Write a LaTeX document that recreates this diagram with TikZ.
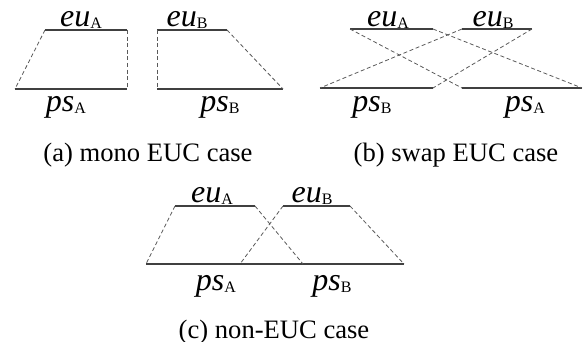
\documentclass[tikz,border=0pt]{standalone}
\usepackage{fontspec}
\setmainfont{Liberation Serif}
\newcommand{\sym}[2]{{\fontsize{16}{18}\selectfont\itshape #1}{\fontsize{8}{9}\selectfont\raisebox{-1pt}{#2}}}
\tikzset{
  edge/.style={line width=0.65pt,black!75},
  side/.style={line width=0.4pt,black!65,dash pattern=on 2pt off 1.3pt},
  lab/.style={anchor=base,inner sep=0pt},
  caption/.style={anchor=base,inner sep=0pt,font=\fontsize{13.3}{16}\selectfont},
}
\begin{document}
\begin{tikzpicture}[x=0.5pt,y=-0.5pt]
\useasboundingbox (0,0) rectangle (585,342);
% (a) mono
\coordinate (aAtl) at (45,30);
\coordinate (aAtr) at (127,30);
\coordinate (aAbl) at (15,89);
\coordinate (aAbr) at (127,89);
\coordinate (aBtl) at (157,30);
\coordinate (aBtr) at (227,30);
\coordinate (aBbl) at (157,89);
\coordinate (aBbr) at (283,89);
\draw[edge] (aAtl) -- (aAtr);
\draw[edge] (aAbl) -- (aAbr);
\draw[side] (aAtl) -- (aAbl);
\draw[side] (aAtr) -- (aAbr);
\draw[edge] (aBtl) -- (aBtr);
\draw[edge] (aBbl) -- (aBbr);
\draw[side] (aBtl) -- (aBbl);
\draw[side] (aBtr) -- (aBbr);
\node[lab] (aeuA) at (81,27) {\sym{eu}{A}};
\node[lab] (aeuB) at (187,27) {\sym{eu}{B}};
\node[lab] (apsA) at (66,112) {\sym{ps}{A}};
\node[lab] (apsB) at (220,112) {\sym{ps}{B}};
\node[caption] (capa) at (148,162) {(a) mono EUC case};
% (b) swap
\coordinate (bAtl) at (350,29);
\coordinate (bAtr) at (433,29);
\coordinate (bBtl) at (462,29);
\coordinate (bBtr) at (532,29);
\coordinate (bBbl) at (320,88);
\coordinate (bBbr) at (433,88);
\coordinate (bAbl) at (462,88);
\coordinate (bAbr) at (582,88);
\draw[edge] (bAtl) -- (bAtr);
\draw[edge] (bBtl) -- (bBtr);
\draw[edge] (bBbl) -- (bBbr);
\draw[edge] (bAbl) -- (bAbr);
\draw[side] (bAtl) -- (bAbl);
\draw[side] (bAtr) -- (bAbr);
\draw[side] (bBtl) -- (bBbl);
\draw[side] (bBtr) -- (bBbr);
\node[lab] (beuA) at (388,27) {\sym{eu}{A}};
\node[lab] (beuB) at (493,27) {\sym{eu}{B}};
\node[lab] (bpsB) at (372,112) {\sym{ps}{B}};
\node[lab] (bpsA) at (525,112) {\sym{ps}{A}};
\node[caption] (capb) at (456,162) {(b) swap EUC case};
% (c) non-EUC
\coordinate (cAtl) at (175,206);
\coordinate (cAtr) at (255,206);
\coordinate (cBtl) at (283,206);
\coordinate (cBtr) at (350,206);
\coordinate (cAbl) at (146,264);
\coordinate (cAbr) at (303,264);
\coordinate (cBbl) at (240,264);
\coordinate (cBbr) at (404,264);
\draw[edge] (cAtl) -- (cAtr);
\draw[edge] (cBtl) -- (cBtr);
\draw[edge] (cAbl) -- (cAbr);
\draw[edge] (cBbl) -- (cBbr);
\draw[side] (cAtl) -- (cAbl);
\draw[side] (cAtr) -- (cAbr);
\draw[side] (cBtl) -- (cBbl);
\draw[side] (cBtr) -- (cBbr);
\node[lab] (ceuA) at (212,203) {\sym{eu}{A}};
\node[lab] (ceuB) at (312,203) {\sym{eu}{B}};
\node[lab] (cpsA) at (216,291) {\sym{ps}{A}};
\node[lab] (cpsB) at (332,291) {\sym{ps}{B}};
\node[caption] (capc) at (274,339) {(c) non-EUC case};
\end{tikzpicture}
\end{document}
